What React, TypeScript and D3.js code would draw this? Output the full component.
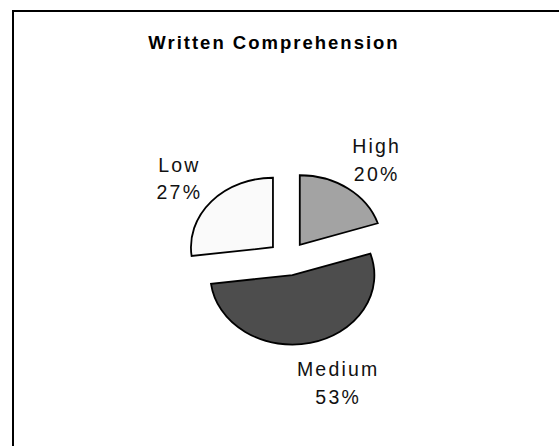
import React from "react";
import * as d3 from "d3";

const categories = ["High", "Medium", "Low"];
const percents = [20, 53, 27];
const title = "Written Comprehension";

const fills = ["#a3a3a3", "#4d4d4d", "#fafafa"];

export default function App() {
  const W = 559;
  const H = 446;
  const cx = 288;
  const cy = 258.5;
  const r = 69.5;
  const sx = 82 / 69.5;
  const explode = 17;
  const labelR = 125;
  // label fine-tuning in px (screen space)
  const nudges: [number, number][] = [
    [2, 0],
    [18, 0],
    [2, 0],
  ];

  const pie = d3
    .pie<number>()
    .sort(null)
    .startAngle(0)
    .endAngle(2 * Math.PI)
    .value((d) => d);
  const arcs = pie(percents);
  const arcGen = d3.arc<d3.PieArcDatum<number>>().innerRadius(0).outerRadius(r);

  return (
    <svg
      width={W}
      height={H}
      style={{ position: "absolute", left: 0, top: 0, display: "block", background: "#fff" }}
      fontFamily="'Liberation Sans', Arial, sans-serif"
    >
      <rect x={0} y={0} width={W} height={H} fill="#fff" />
      <line x1={12} y1={11} x2={W} y2={11} stroke="#000" strokeWidth={2} />
      <line x1={13} y1={10} x2={13} y2={H} stroke="#000" strokeWidth={2} />
      <text
        x={274}
        y={49}
        textAnchor="middle"
        fontWeight="bold"
        fontSize={18.5}
        letterSpacing={2}
        fill="#000"
      >
        {title}
      </text>
      <g transform={`translate(${cx},${cy}) scale(${sx},1)`}>
        {arcs.map((a, i) => {
          const mid = (a.startAngle + a.endAngle) / 2;
          const dx = explode * Math.sin(mid);
          const dy = -explode * Math.cos(mid);
          return (
            <path
              key={i}
              d={arcGen(a) || ""}
              transform={`translate(${dx},${dy})`}
              fill={fills[i]}
              stroke="#000"
              strokeWidth={1.8}
              strokeLinejoin="miter"
              vectorEffect="non-scaling-stroke"
            />
          );
        })}
      </g>
      {arcs.map((a, i) => {
        const mid = (a.startAngle + a.endAngle) / 2;
        const lx = cx + labelR * Math.sin(mid) * sx + nudges[i][0];
        const ly = cy - labelR * Math.cos(mid) + nudges[i][1];
        return (
          <text
            key={i}
            x={lx}
            y={ly}
            textAnchor="middle"
            fontSize={19.5}
            letterSpacing={2.2}
            fill="#111"
          >
            <tspan x={lx} dy={-4}>
              {categories[i]}
            </tspan>
            <tspan x={lx} dy={27.5}>
              {percents[i] + "%"}
            </tspan>
          </text>
        );
      })}
    </svg>
  );
}
